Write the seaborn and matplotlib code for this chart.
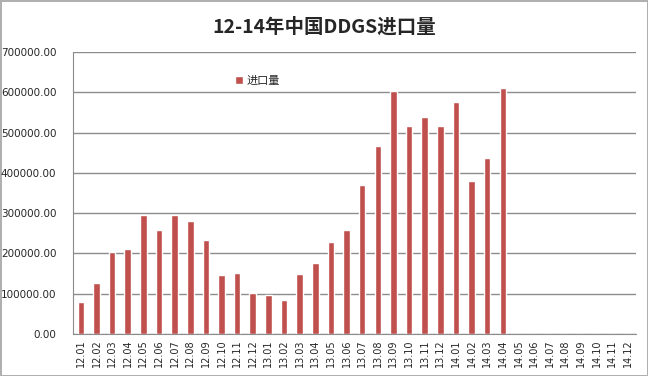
import pandas as pd
import matplotlib.pyplot as plt
import seaborn as sns

# monthly labels 2012-2014
months = ['12.01', '12.02', '12.03', '12.04', '12.05', '12.06', '12.07', '12.08', '12.09', '12.10', '12.11', '12.12',
          '13.01', '13.02', '13.03', '13.04', '13.05', '13.06', '13.07', '13.08', '13.09', '13.10', '13.11', '13.12',
          '14.01', '14.02', '14.03', '14.04', '14.05', '14.06', '14.07', '14.08', '14.09', '14.10', '14.11', '14.12']
imports = [79000, 126000, 203000, 211000, 295000, 258000, 295000, 280000, 233000, 146000, 152000, 102000,
           97000, 84000, 149000, 176000, 229000, 258000, 370000, 466000, 604000, 516000, 538000, 516000,
           575000, 380000, 436000, 611000, 0, 0, 0, 0, 0, 0, 0, 0]
yticks = [0, 100000, 200000, 300000, 400000, 500000, 600000, 700000]

df = pd.DataFrame({'month': months, 'value': imports})

sns.set_style('white')
plt.rcParams['font.family'] = ['Noto Sans CJK SC', 'DejaVu Sans']

fig = plt.figure(figsize=(6.48, 3.76), dpi=100)
fig.patch.set_edgecolor('#b0b0b0')
fig.patch.set_linewidth(2)
ax = fig.add_axes([0.1127, 0.1117, 0.8683, 0.75])

sns.barplot(data=df, x='month', y='value', color='#C0504D', width=0.42,
            saturation=1, ax=ax, label='进口量')

ax.set_ylim(0, 700000)
ax.set_yticks(yticks)
ax.set_yticklabels([f'{v:.2f}' for v in yticks], fontsize=7.5, family='DejaVu Sans')
ax.set_xticks(range(len(months)))
ax.set_xticklabels(months, rotation=90, fontsize=7, family='DejaVu Sans')
ax.set_xlim(-0.5, len(months) - 0.5)
ax.set_xlabel('')
ax.set_ylabel('')
ax.yaxis.grid(True, color='#8c8c8c', linewidth=1)
ax.set_axisbelow(True)
for s in ['top', 'right']:
    ax.spines[s].set_visible(False)
ax.spines['left'].set_color('#8c8c8c')
ax.spines['bottom'].set_color('#8c8c8c')
ax.tick_params(axis='y', length=0, pad=12)
ax.tick_params(axis='x', length=0, pad=4)

ax.legend(loc='upper left', bbox_to_anchor=(0.27, 0.95), frameon=False, fontsize=8,
          handlelength=0.7, handleheight=0.7, handletextpad=0.3)

fig.suptitle('12-14年中国DDGS进口量', y=0.955, fontsize=14, fontweight='bold')

plt.savefig('out.png', dpi=100)
plt.close()
